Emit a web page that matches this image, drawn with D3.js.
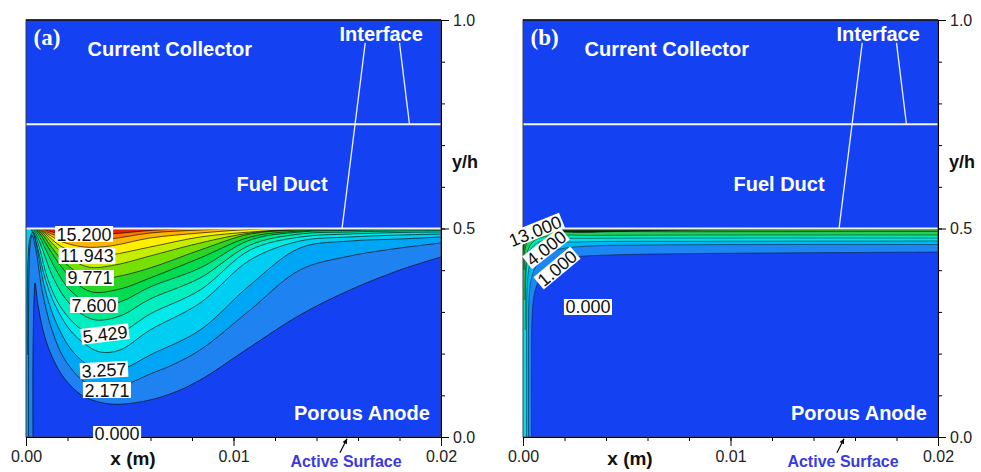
<!DOCTYPE html>
<html>
<head>
<meta charset="utf-8">
<script src="https://cdn.jsdelivr.net/npm/d3@7"></script>
<style>
  html, body { margin: 0; padding: 0; background: #fff; }
  svg { display: block; font-family: "Liberation Sans", Arial, Helvetica, sans-serif; }
</style>
</head>
<body>
<svg id="chart" width="981" height="472"></svg>
<script>
// ---------------- axes ----------------
const xMajorTicks = [0, 0.01, 0.02];
const xMinorTicks = [0, 0.002, 0.004, 0.006, 0.008, 0.01, 0.012, 0.014, 0.016, 0.018, 0.02];
const yMajorTicks = [0, 0.5, 1.0];
const yMinorTicks = [0, 0.1, 0.2, 0.3, 0.4, 0.5, 0.6, 0.7, 0.8, 0.9, 1.0];

// layer boundaries (y/h): anode | fuel duct | current collector
const layerBounds = [0.5, 0.75];
// leader lines from the "Interface" note to the two interfaces, and the active-surface pointer
const interfaceLeaderLow = [[0.01635, 0.945], [0.01523, 0.5]];
const interfaceLeaderHigh = [[0.0180, 0.945], [0.01848, 0.75]];
const surfacePointer = [[0.01513, -0.038], [0.01547, -0.004]];

// ---------------- panel (a) ----------------
const levelsA = [1.086, 2.171, 3.257, 4.343, 5.429, 6.514, 7.600, 8.686, 9.771, 10.857, 11.943, 13.029, 14.114, 15.200];
// each isoline: [x (m), y/h] points; the field is >= level above / left of the line
const isolinesA = [
  [[0.000337,0],[0.000337,0.1847],[0.000386,0.3285],[0.000434,0.3693],[0.000578,0.3165],[0.000819,0.2566],[0.00116,0.2038],[0.00164,0.1559],[0.00212,0.1247],[0.00284,0.0959],[0.00405,0.0791],[0.00549,0.0839],[0.00694,0.1031],[0.00839,0.1367],[0.0108,0.2158],[0.0132,0.2926],[0.01561,0.3525],[0.01802,0.4005],[0.02,0.4317]],
  [[0.00012,0],[0.00012,0.2566],[0.000145,0.4005],[0.000193,0.4604],[0.000289,0.4844],[0.000482,0.4484],[0.000771,0.3525],[0.00125,0.2566],[0.00188,0.1847],[0.00284,0.1319],[0.00395,0.1127],[0.00501,0.1295],[0.00598,0.1511],[0.00694,0.1703],[0.00839,0.2086],[0.0108,0.3046],[0.0132,0.4005],[0.01561,0.4341],[0.01802,0.4532],[0.02,0.4652]],
  [[0.000063,0.1966],[0.000096,0.4245],[0.000193,0.4772],[0.000337,0.4916],[0.00053,0.4532],[0.000867,0.3645],[0.0014,0.2806],[0.00212,0.2134],[0.00284,0.1775],[0.00376,0.1583],[0.00477,0.1655],[0.00598,0.1966],[0.00839,0.2566],[0.0108,0.3645],[0.0132,0.4532],[0.01561,0.47],[0.01802,0.4748],[0.02,0.4796]],
  [[0.000193,0.5],[0.000337,0.4892],[0.00053,0.4604],[0.000916,0.3813],[0.0014,0.3165],[0.00212,0.2566],[0.00284,0.223],[0.00357,0.2038],[0.00453,0.2086],[0.00598,0.2566],[0.00839,0.3213],[0.0108,0.4245],[0.0132,0.47],[0.01561,0.4796],[0.01802,0.4844],[0.02,0.4868]],
  [[0.000241,0.5],[0.000434,0.4844],[0.000675,0.4484],[0.00106,0.3765],[0.00164,0.3141],[0.00251,0.2638],[0.00347,0.2398],[0.00453,0.2494],[0.00598,0.295],[0.00839,0.3525],[0.0108,0.4484],[0.0132,0.4796],[0.01561,0.4868],[0.01802,0.4904],[0.02,0.4916]],
  [[0.000289,0.5],[0.000482,0.4868],[0.000771,0.4532],[0.00125,0.3885],[0.00188,0.3333],[0.0026,0.2974],[0.00337,0.2806],[0.00453,0.2902],[0.00598,0.3309],[0.00839,0.3813],[0.0108,0.4604],[0.0132,0.4868],[0.01561,0.4916],[0.01802,0.494],[0.02,0.4952]],
  [[0.000337,0.5],[0.000578,0.4868],[0.000916,0.4532],[0.00145,0.4005],[0.00212,0.3525],[0.00328,0.3141],[0.00453,0.3237],[0.00598,0.3597],[0.00839,0.4053],[0.0108,0.4724],[0.0132,0.4916],[0.01561,0.4952],[0.01802,0.4969],[0.02,0.4981]],
  [[0.000386,0.5],[0.000675,0.4868],[0.00106,0.4556],[0.00164,0.4125],[0.00236,0.3717],[0.00318,0.3477],[0.00453,0.3549],[0.00598,0.3813],[0.00839,0.4293],[0.0108,0.4796],[0.0132,0.494],[0.01561,0.4969],[0.01802,0.4988],[0.02,0.4995]],
  [[0.000434,0.5],[0.000771,0.4868],[0.00116,0.4604],[0.00173,0.4245],[0.00251,0.3933],[0.00308,0.3789],[0.00429,0.3837],[0.00598,0.4053],[0.00839,0.4484],[0.0108,0.4868],[0.0132,0.4964],[0.01561,0.4988],[0.01899,0.5]],
  [[0.000482,0.5],[0.000867,0.4868],[0.00125,0.4652],[0.00188,0.4365],[0.00299,0.4077],[0.00429,0.4125],[0.00598,0.4341],[0.00839,0.4652],[0.0108,0.4892],[0.0132,0.4976],[0.01706,0.5]],
  [[0.00053,0.5],[0.000964,0.4868],[0.00145,0.4652],[0.00212,0.446],[0.00289,0.4341],[0.00405,0.4365],[0.00598,0.4556],[0.00839,0.4796],[0.0108,0.4916],[0.0132,0.4988],[0.01561,0.5]],
  [[0.000578,0.5],[0.00106,0.4868],[0.00164,0.47],[0.0028,0.4556],[0.00405,0.458],[0.00598,0.4772],[0.00839,0.4892],[0.0108,0.4976],[0.01272,0.5]],
  [[0.000675,0.5],[0.00125,0.4868],[0.00193,0.476],[0.0027,0.4724],[0.00405,0.4748],[0.00598,0.4892],[0.00839,0.4964],[0.01031,0.5]],
  [[0.000771,0.5],[0.00145,0.4892],[0.0026,0.4844],[0.00405,0.4868],[0.00598,0.4952],[0.0079,0.5]]
];
const bandColorsA = ["#1442f2", "#1e82f0", "#00a6f6", "#00cdf2", "#00eaea", "#00eec0", "#00e890", "#00dc52",
                     "#2ad424", "#78e000", "#c6ec00", "#fff000", "#ffb400", "#ff7800", "#e02000"];
const labelValuesA = [15.2, 11.943, 9.771, 7.6, 5.429, 3.257, 2.171, 0];
const labelAtA = [[0.0028,0.4868],[0.00294,0.4341],[0.00308,0.3813],[0.00328,0.3165],[0.00381,0.247],[0.00376,0.1607],[0.0039,0.1127],[0.00439,0.0072]];
const labelAngleA = [0, 0, 0, 0, -7, -3, 0, 0];

// ---------------- panel (b) ----------------
const levelsB = [1, 2, 3, 4, 7, 10, 13];
const isolinesB = [
  [[0.00041,0],[0.00041,0.1847],[0.000434,0.2806],[0.00053,0.3381],[0.000771,0.3765],[0.00116,0.4053],[0.00169,0.4221],[0.00251,0.4317],[0.00419,0.4365],[0.00853,0.44],[0.01576,0.4424],[0.02,0.4436]],
  [[0.000265,0],[0.000265,0.2566],[0.000289,0.3285],[0.000386,0.3765],[0.000627,0.4101],[0.00106,0.4365],[0.00178,0.4508],[0.00323,0.458],[0.00612,0.4604],[0.01335,0.4616],[0.02,0.4616]],
  [[0.000169,0],[0.000169,0.2566],[0.000193,0.3525],[0.000289,0.4053],[0.000482,0.4388],[0.000867,0.458],[0.00154,0.4652],[0.00323,0.4684],[0.00853,0.4693],[0.02,0.47]],
  [[0.000111,0.2566],[0.000135,0.3645],[0.000193,0.4197],[0.000386,0.4508],[0.000771,0.4676],[0.00154,0.4748],[0.00371,0.4765],[0.02,0.4772]],
  [[0.000087,0.3285],[0.00012,0.4005],[0.000241,0.4484],[0.000578,0.4724],[0.0013,0.482],[0.00371,0.4837],[0.02,0.4844]],
  [[0.000063,0.4005],[0.000096,0.4484],[0.000241,0.4724],[0.000578,0.488],[0.00154,0.4916],[0.00853,0.4921],[0.02,0.4928]],
  [[0.000039,0.4484],[0.000096,0.4772],[0.000337,0.4916],[0.000916,0.494],[0.00275,0.4904],[0.00467,0.4928],[0.00853,0.4964],[0.02,0.4976]]
];
const bandColorsB = ["#1442f2", "#1e86f2", "#00b8f5", "#00e0ea", "#00e8b4", "#24d05c", "#2c9c2c", "#143814"];
const labelValuesB = [13, 4, 1, 0];
const labelAtB = [[0.00058,0.494],[0.00111,0.4532],[0.00164,0.4053],[0.00313,0.3118]];
const labelAngleB = [-22, -38, -40, 0];

// ---------------- drawing ----------------
const svg = d3.select("#chart");
const plotW = 415, plotTop = 20, plotBottom = 437;
const fmt3 = d3.format(".3f");

const panels = [
  { id: "a", tag: "(a)", left: 26, levels: levelsA, isolines: isolinesA, colors: bandColorsA,
    labels: labelValuesA, labelAt: labelAtA, labelAngle: labelAngleA, lineOpacity: 0.85 },
  { id: "b", tag: "(b)", left: 523, levels: levelsB, isolines: isolinesB, colors: bandColorsB,
    labels: labelValuesB, labelAt: labelAtB, labelAngle: labelAngleB, lineOpacity: 0.6 }
];

panels.forEach(p => {
  const x = d3.scaleLinear().domain([0, 0.02]).range([p.left, p.left + plotW]);
  const y = d3.scaleLinear().domain([0, 1]).range([plotBottom, plotTop]);
  const color = d3.scaleThreshold().domain(p.levels).range(p.colors);
  const g = svg.append("g").attr("class", "panel-" + p.id);

  // whole cell background
  g.append("rect")
    .attr("x", x(0)).attr("y", y(1))
    .attr("width", x(0.02) - x(0)).attr("height", y(0) - y(1))
    .attr("fill", p.colors[0]);

  // porous anode: filled contour bands
  const clipId = "anode-clip-" + p.id;
  svg.append("clipPath").attr("id", clipId).append("rect")
    .attr("x", x(0)).attr("y", y(0.5))
    .attr("width", x(0.02) - x(0)).attr("height", y(0) - y(0.5));

  const line = d3.line().x(d => x(d[0])).y(d => y(d[1])).curve(d3.curveCatmullRom.alpha(0.5));
  const fieldG = g.append("g").attr("clip-path", `url(#${clipId})`);

  p.isolines.forEach((pts, i) => {
    const first = pts[0], last = pts[pts.length - 1];
    const d = line(pts) +
      `L${x(last[0])},${y(0.5)}L${x(0)},${y(0.5)}L${x(0)},${y(first[1])}Z`;
    fieldG.append("path").attr("d", d).attr("fill", color(p.levels[i]));
  });
  p.isolines.forEach(pts => {
    fieldG.append("path").attr("d", line(pts))
      .attr("fill", "none").attr("stroke", "#0a0a0a")
      .attr("stroke-width", 0.8).attr("stroke-opacity", p.lineOpacity);
  });

  // layer interfaces
  layerBounds.forEach(b => {
    g.append("line")
      .attr("x1", x(0)).attr("x2", x(0.02))
      .attr("y1", y(b)).attr("y2", y(b))
      .attr("stroke", "#eef2ff").attr("stroke-width", 1.8);
  });
  [interfaceLeaderLow, interfaceLeaderHigh].forEach(seg => {
    g.append("line")
      .attr("x1", x(seg[0][0])).attr("y1", y(seg[0][1]))
      .attr("x2", x(seg[1][0])).attr("y2", y(seg[1][1]))
      .attr("stroke", "#eef2ff").attr("stroke-width", 1.3);
  });

  // frame
  g.append("rect")
    .attr("x", x(0)).attr("y", y(1))
    .attr("width", x(0.02) - x(0)).attr("height", y(0) - y(1))
    .attr("fill", "none").attr("stroke", "#3a3a4a").attr("stroke-width", 1);
  g.append("line")
    .attr("x1", x(0)).attr("x2", x(0.02)).attr("y1", y(1)).attr("y2", y(1))
    .attr("stroke", "#111").attr("stroke-width", 1.6);

  // region names
  const white = (t, dx, by, size, family) => g.append("text")
    .attr("x", p.left + dx).attr("y", by).text(t)
    .attr("fill", "#fff").attr("font-weight", "bold")
    .attr("font-size", size).attr("font-family", family || null);
  white(p.tag, 7.5, 45, 23, "'Liberation Serif', 'Times New Roman', serif");
  white("Current Collector", 61.5, 56, 20);
  white("Interface", 313.5, 41, 20);
  white("Fuel Duct", 210.5, 191, 20);
  white("Porous Anode", 268, 420, 20);

  // axes
  const axisStyle = sel => {
    sel.select(".domain").attr("stroke", "#000").attr("stroke-width", 1);
    sel.selectAll(".tick line").attr("stroke", "#000").attr("stroke-width", 1);
    sel.selectAll(".tick text").attr("fill", "#222").attr("font-size", 16)
      .attr("font-family", "'Liberation Sans', Arial, sans-serif");
  };
  g.append("g").attr("transform", `translate(0,${plotBottom})`)
    .call(d3.axisBottom(x).tickValues(xMinorTicks).tickSize(4).tickSizeOuter(0).tickFormat(""))
    .call(axisStyle);
  g.append("g").attr("transform", `translate(0,${plotBottom})`)
    .call(d3.axisBottom(x).tickValues(xMajorTicks).tickSize(9).tickPadding(5).tickSizeOuter(0)
      .tickFormat(d3.format(".2f")))
    .call(axisStyle);
  g.append("g").attr("transform", `translate(${x(0.02)},0)`)
    .call(d3.axisRight(y).tickValues(yMinorTicks).tickSize(4).tickSizeOuter(0).tickFormat(""))
    .call(axisStyle);
  g.append("g").attr("transform", `translate(${x(0.02)},0)`)
    .call(d3.axisRight(y).tickValues(yMajorTicks).tickSize(8).tickPadding(4).tickSizeOuter(0)
      .tickFormat(d3.format(".1f")))
    .call(axisStyle);

  g.append("text").attr("x", p.left + 107).attr("y", 465)
    .attr("text-anchor", "middle").attr("font-weight", "bold").attr("font-size", 19)
    .attr("fill", "#111").text("x (m)");
  g.append("text").attr("x", p.left + 426).attr("y", 168)
    .attr("font-weight", "bold").attr("font-size", 18)
    .attr("fill", "#111").text("y/h");
  g.append("text").attr("x", p.left + 320).attr("y", 467)
    .attr("text-anchor", "middle").attr("font-weight", "bold").attr("font-size", 16)
    .attr("fill", "#3b3bdb").text("Active Surface");

  // pointer to the active surface
  const sx0 = x(surfacePointer[0][0]), sy0 = y(surfacePointer[0][1]);
  const sx1 = x(surfacePointer[1][0]), sy1 = y(surfacePointer[1][1]);
  g.append("line").attr("x1", sx0).attr("y1", sy0).attr("x2", sx1).attr("y2", sy1)
    .attr("stroke", "#000").attr("stroke-width", 1.2);
  const ang = Math.atan2(sy1 - sy0, sx1 - sx0);
  const ah = 5, aw = 2.5;
  const bx = sx1 - ah * Math.cos(ang), by = sy1 - ah * Math.sin(ang);
  g.append("path")
    .attr("d", `M${sx1},${sy1}L${bx - aw * Math.sin(ang)},${by + aw * Math.cos(ang)}L${bx + aw * Math.sin(ang)},${by - aw * Math.cos(ang)}Z`)
    .attr("fill", "#000");

  // contour value labels
  p.labels.forEach((v, i) => {
    const [lx, ly] = p.labelAt[i];
    const lg = g.append("g")
      .attr("transform", `translate(${x(lx)},${y(ly)}) rotate(${p.labelAngle[i]})`);
    const t = lg.append("text").text(fmt3(v))
      .attr("text-anchor", "middle").attr("y", 6.5)
      .attr("font-size", 18).attr("fill", "#111");
    const w = t.node().getComputedTextLength();
    lg.insert("rect", "text")
      .attr("x", -w / 2 - 1.5).attr("y", -8)
      .attr("width", w + 3).attr("height", 16)
      .attr("fill", "#fff");
  });
});
</script>
</body>
</html>
